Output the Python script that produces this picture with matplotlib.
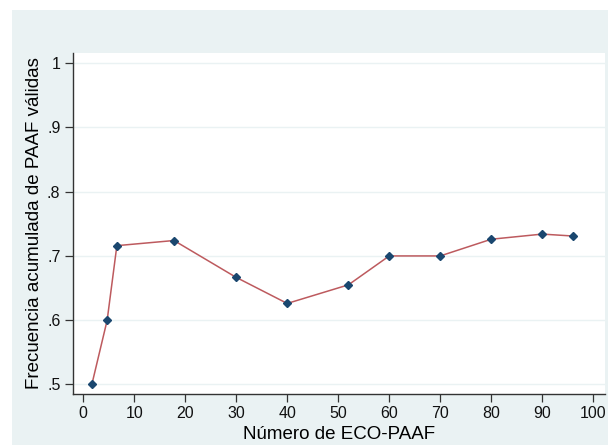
import numpy as np
import matplotlib.pyplot as plt
from matplotlib.patches import Rectangle

plt.rcParams['font.family'] = ['Liberation Sans', 'DejaVu Sans']

# Datos
n_eco = [1.7, 4.7, 6.6, 17.8, 29.9, 40, 52, 60, 70, 80, 90, 96]
frec_acum = [0.500, 0.600, 0.716, 0.724, 0.667, 0.626, 0.655, 0.700, 0.700, 0.726, 0.734, 0.731]

x_ticks = [0, 10, 20, 30, 40, 50, 60, 70, 80, 90, 100]
y_ticks = [0.5, 0.6, 0.7, 0.8, 0.9, 1.0]
y_labels = ['.5', '.6', '.7', '.8', '.9', '1']

bg = '#eaf2f3'
line_col = '#bd5a5e'
mark_col = '#1a476f'
spine_col = '#333333'

fig = plt.figure(figsize=(6.08, 4.46), dpi=100, facecolor='white')
fig.patches.append(Rectangle((12/608, 1/446), 1 - 12/608, (436 - 1)/446,
                             transform=fig.transFigure, facecolor=bg,
                             edgecolor='none', zorder=-10))

ax = fig.add_axes([73/608, 52/446, (605 - 73)/608, (393 - 52)/446])
ax.set_facecolor('white')

ax.plot(n_eco, frec_acum, color=line_col, linewidth=1.1, zorder=3)
ax.plot(n_eco, frec_acum, linestyle='none', marker='D', markersize=4.2,
        color=mark_col, zorder=4)

ax.set_xlim(-2.0, 102.3)
ax.set_ylim(0.485, 1.016)
ax.set_xticks(x_ticks)
ax.set_yticks(y_ticks)
ax.set_yticklabels(y_labels)

for s in ['top', 'right']:
    ax.spines[s].set_visible(False)
for s in ['left', 'bottom']:
    ax.spines[s].set_color(spine_col)
    ax.spines[s].set_linewidth(1.0)

ax.tick_params(axis='both', direction='out', length=6, width=0.9,
               color=spine_col, labelsize=11.5, labelcolor='#111111', pad=3)
ax.grid(axis='y', color=bg, linewidth=1.0, zorder=0)
ax.set_axisbelow(True)

ax.set_xlabel('Número de ECO-PAAF', fontsize=13.5, labelpad=3)
ax.set_ylabel('Frecuencia acumulada de PAAF válidas', fontsize=13.5, labelpad=3)

fig.savefig('out.png', dpi=100, facecolor='white')
